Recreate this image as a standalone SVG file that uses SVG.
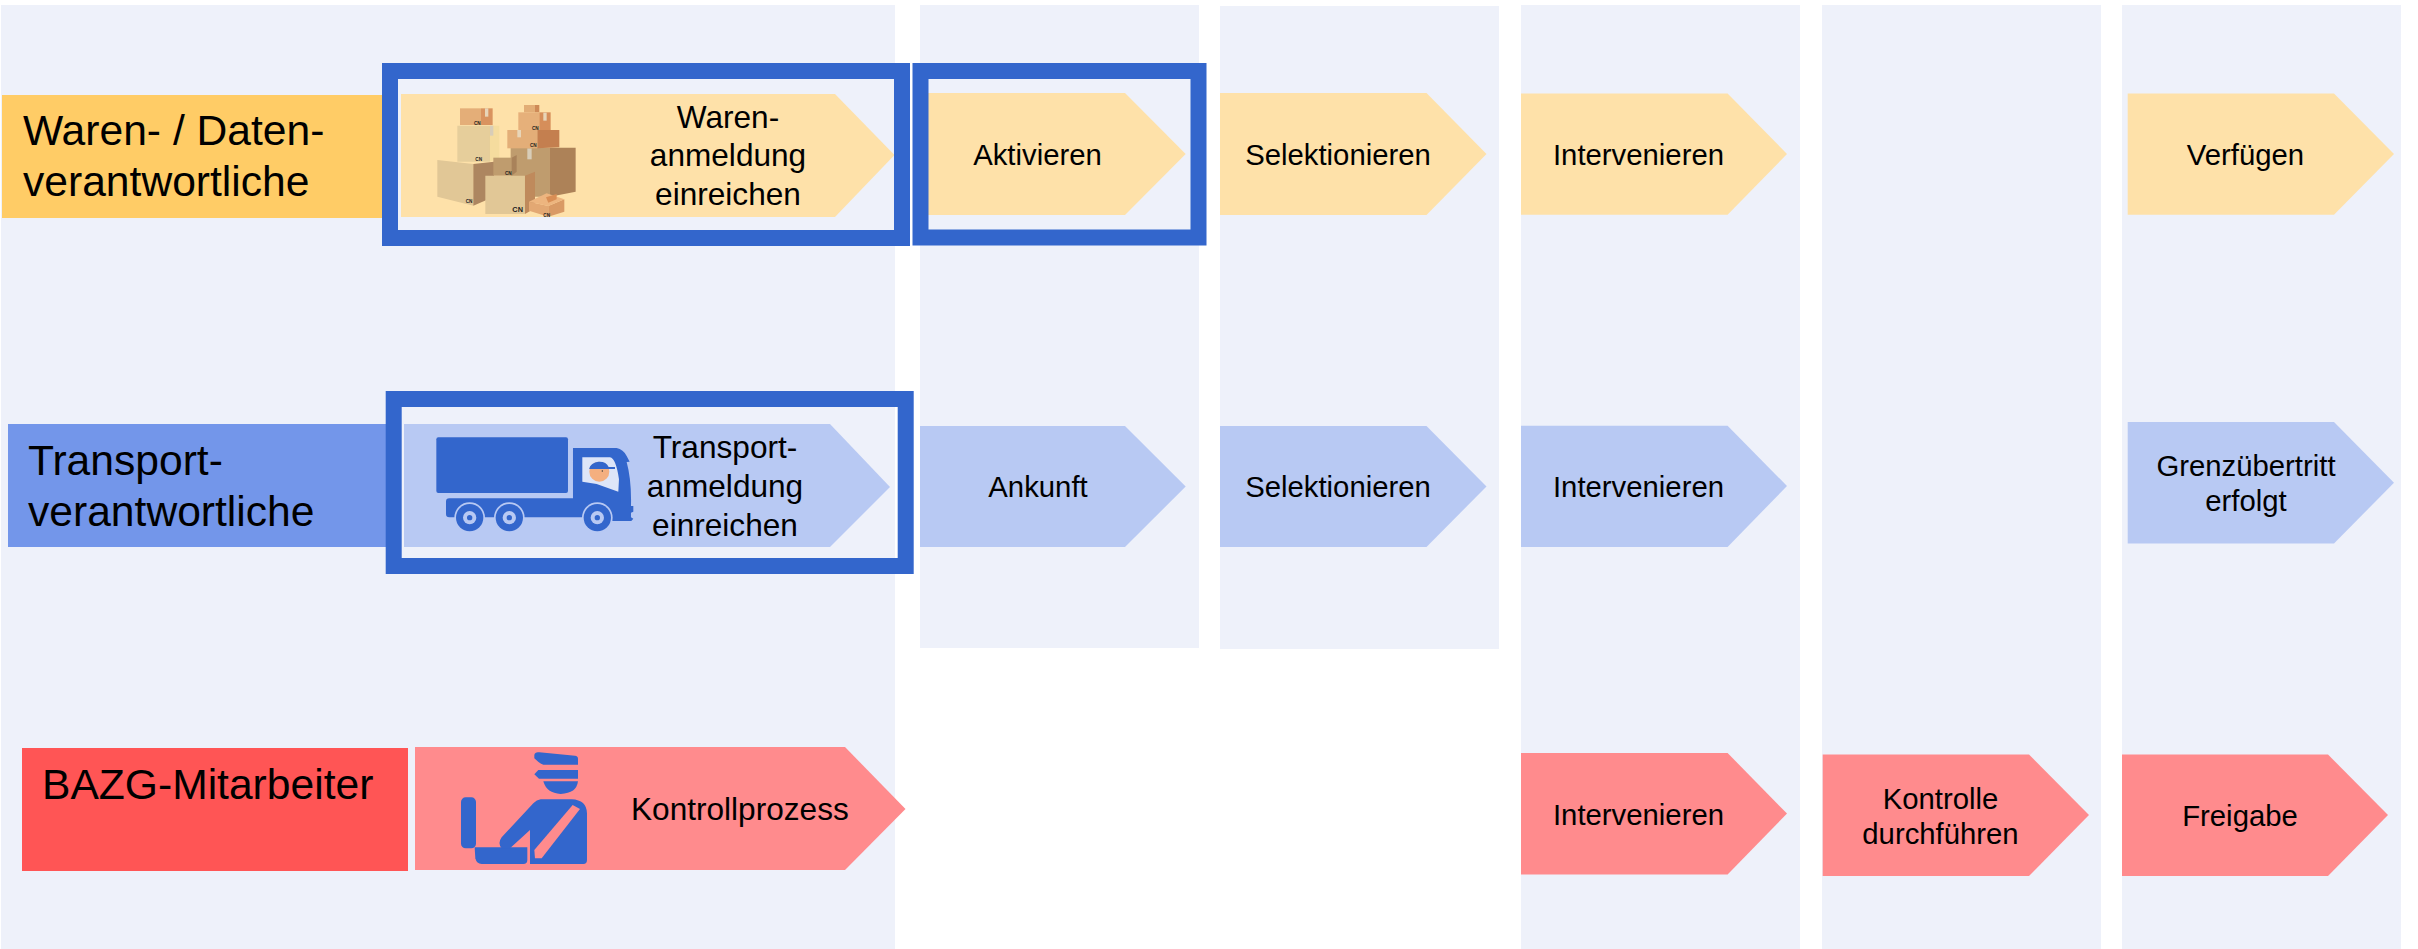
<svg xmlns="http://www.w3.org/2000/svg" width="2418" height="949" viewBox="0 0 2418 949">
<style>
text{font-family:"Liberation Sans",Arial,sans-serif;fill:#000}
.t{font-size:29.3px;text-anchor:middle}
.m{font-size:31.6px;text-anchor:middle}
.l{font-size:42.6px}
.panel{fill:#EEF1FA}
.y{fill:#FEE1A9}
.b{fill:#B8C9F3}
.r{fill:#FF8B8D}
.frame{fill:none;stroke:#3366CC;stroke-width:16}
.ic{fill:#3366CC}
.cn{font-weight:700;font-size:14px;text-anchor:middle;fill:#222}
</style>
<rect width="2418" height="949" fill="#fff"/>
<g id="panels">
<rect class="panel" x="1" y="5" width="894" height="944"/>
<rect class="panel" x="920" y="5" width="279" height="643"/>
<rect class="panel" x="1220" y="6" width="279" height="643"/>
<rect class="panel" x="1521" y="5" width="279" height="944"/>
<rect class="panel" x="1822" y="5" width="279" height="944"/>
<rect class="panel" x="2122" y="5" width="279" height="944"/>
</g>
<g id="role-waren">
<rect x="2" y="95" width="382" height="123" fill="#FFCC66"/>
<text class="l" x="23" y="145">Waren- / Daten-</text>
<text class="l" x="23" y="196">verantwortliche</text>
</g>
<g id="role-transport">
<rect x="8" y="424" width="380" height="123" fill="#7396EA"/>
<text class="l" x="28" y="475">Transport-</text>
<text class="l" x="28" y="526">verantwortliche</text>
</g>
<g id="role-bazg">
<rect x="22" y="748" width="386" height="123" fill="#FF5555"/>
<text class="l" x="42" y="799">BAZG-Mitarbeiter</text>
</g>
<g id="step-waren-anmeldung">
<polygon class="y" points="401,94 835,94 894.5,155 835,217 401,217"/>
<g transform="translate(420,90) scale(.3333)">
<polygon points="120,55 183,55 183,105 120,105" fill="#E4AE78"/><polygon points="183,55 218,55 218,105 183,105" fill="#D9935F"/><rect x="195" y="55" width="10" height="25" fill="#E8D5B8"/>
<polygon points="112,107 210,107 210,215 112,215" fill="#E6CE9B"/><polygon points="210,107 238,107 238,205 210,215" fill="#F5DC9E"/><rect x="210" y="107" width="10" height="30" fill="#D8CDB8"/>
<polygon points="312,45 345,45 345,67 312,67" fill="#E2AD76"/><polygon points="345,45 358,45 358,67 345,67" fill="#CE8A57"/>
<polygon points="295,67 358,67 358,120 295,120" fill="#E6B07A"/><polygon points="358,67 392,67 392,120 358,120" fill="#D68E5A"/><rect x="370" y="68" width="10" height="24" fill="#E8D5B8"/>
<polygon points="272,173 390,173 390,320 272,320" fill="#BF9C6E"/><polygon points="390,173 467,173 467,305 390,320" fill="#AD8258"/><rect x="322" y="175" width="13" height="33" fill="#D8CDB8"/>
<polygon points="262,120 352,120 352,175 262,175" fill="#E3AE78"/><polygon points="352,120 418,120 418,172 352,175" fill="#C47F4F"/><rect x="292" y="120" width="11" height="22" fill="#E8D5B8"/>
<polygon points="52,210 160,222 160,347 52,320" fill="#E1C796"/><polygon points="160,222 222,215 222,320 160,347" fill="#AD8660"/>
<polygon points="196,257 315,257 315,372 196,372" fill="#E1C796"/><polygon points="315,257 345,245 345,355 315,372" fill="#BF8A5C"/>
<polygon points="220,203 275,203 275,257 220,257" fill="#BF9C6E"/><polygon points="275,203 290,195 290,245 275,257" fill="#A9825A"/>
<polygon points="327,335 385,348 385,380 327,362" fill="#E3A873"/><polygon points="385,348 433,328 433,365 385,380" fill="#D99A65"/><polygon points="327,335 380,310 433,328 385,348" fill="#EDB57F"/><polygon points="378,322 410,312 410,328 385,338" fill="#D98E55"/>
<text class="cn" x="293" y="365" style="font-size:22px">CN</text>
<text class="cn" x="172" y="105">CN</text><text class="cn" x="346" y="119">CN</text><text class="cn" x="340" y="172">CN</text><text class="cn" x="176" y="214">CN</text><text class="cn" x="265" y="254">CN</text><text class="cn" x="147" y="340">CN</text><text class="cn" x="380" y="380">CN</text>
</g>
<text class="m" x="728" y="128">Waren-</text>
<text class="m" x="728" y="166">anmeldung</text>
<text class="m" x="728" y="205">einreichen</text>
</g>
<g id="step-aktivieren">
<polygon class="y" points="920,93 1125,93 1185.7,154 1125,215 920,215"/>
<text class="t" x="1037.5" y="165">Aktivieren</text>
</g>
<g id="step-selektionieren-1">
<polygon class="y" points="1220,93 1426.5,93 1486.5,154 1426.5,215 1220,215"/>
<text class="t" x="1338" y="165">Selektionieren</text>
</g>
<g id="step-intervenieren-1">
<polygon class="y" points="1521,93.5 1727.6,93.5 1787,154 1727.6,214.7 1521,214.7"/>
<text class="t" x="1638.5" y="165">Intervenieren</text>
</g>
<g id="step-verfuegen">
<polygon class="y" points="2127.7,93.5 2334,93.5 2394,154 2334,214.7 2127.7,214.7"/>
<text class="t" x="2245.5" y="165">Verfügen</text>
</g>
<g id="step-transport-anmeldung">
<polygon class="b" points="404,424 830,424 890,487 830,547 404,547"/>
<g transform="translate(420,420) scale(.3333)">
<rect class="ic" x="49" y="52" width="395" height="167" rx="6"/>
<path class="ic" d="M88 235H459V84H590Q610 88 620 108L629 125L620 126Q635 180 633 258H640V275L633 278V292L640 296L634 303H560V292H88Q78 292 78 282V245Q78 235 88 235Z"/>
<g fill="#B8C9F3"><circle cx="149" cy="293" r="46"/><circle cx="268" cy="293" r="46"/><circle cx="532" cy="293" r="46"/></g>
<g class="ic"><circle cx="149" cy="293" r="41"/><circle cx="268" cy="293" r="41"/><circle cx="532" cy="293" r="41"/></g>
<g fill="#B8C9F3"><circle cx="149" cy="293" r="20"/><circle cx="268" cy="293" r="20"/><circle cx="532" cy="293" r="20"/></g>
<g class="ic"><circle cx="149" cy="293" r="8"/><circle cx="268" cy="293" r="8"/><circle cx="532" cy="293" r="8"/></g>
<path d="M487 112H570Q588 115 597 178L595 215L530 192L487 185Z" fill="#DDE5F8"/>
<circle cx="538" cy="155" r="30" fill="#F4AF7F"/>
<path class="ic" d="M508 145A30 23 0 0 1 566 141H585V147H508Z"/>
<circle cx="547" cy="153" r="2" fill="#333"/>
</g>
<text class="m" x="725" y="458">Transport-</text>
<text class="m" x="725" y="497">anmeldung</text>
<text class="m" x="725" y="536">einreichen</text>
</g>
<g id="step-ankunft">
<polygon class="b" points="920,426 1125,426 1185.7,486.5 1125,547 920,547"/>
<text class="t" x="1038" y="497">Ankunft</text>
</g>
<g id="step-selektionieren-2">
<polygon class="b" points="1220,426 1426.5,426 1486.5,486.5 1426.5,547 1220,547"/>
<text class="t" x="1338" y="497">Selektionieren</text>
</g>
<g id="step-intervenieren-2">
<polygon class="b" points="1521,425.7 1727.6,425.7 1787,486 1727.6,547 1521,547"/>
<text class="t" x="1638.5" y="497">Intervenieren</text>
</g>
<g id="step-grenzuebertritt">
<polygon class="b" points="2127.7,422 2334,422 2394,482.7 2334,543.6 2127.7,543.6"/>
<text class="t" x="2246" y="476">Grenzübertritt</text>
<text class="t" x="2246" y="510.6">erfolgt</text>
</g>
<g id="step-kontrollprozess">
<polygon class="r" points="415,747 845,747 905.5,809 845,870 415,870"/>
<g transform="translate(440,740) scale(.3333)">
<path class="ic" d="M283 45Q285 35 298 37L405 47Q414 48 414 56V74H310Q300 72 283 55Z"/>
<path class="ic" d="M283 103L295 90H414V116H297Z"/>
<path class="ic" d="M310 124H414Q410 160 362 162Q320 160 310 124Z"/>
<rect class="ic" x="63" y="172" width="45" height="153" rx="14"/>
<path class="ic" d="M104 322H262V360Q262 372 250 372H125Q110 372 106 355Z"/>
<path class="ic" d="M302 178H395Q440 180 441 220V360Q441 372 430 372H270V270L210 325H185Q172 310 185 292L280 190Q290 180 302 178Z"/>
<polygon class="r" points="398,195 420,207 305,355 285,355 283,330"/>
</g>
<text class="m" x="631" y="820" style="text-anchor:start">Kontrollprozess</text>
</g>
<g id="step-intervenieren-3">
<polygon class="r" points="1521,753 1727.6,753 1787,813.6 1727.6,874.6 1521,874.6"/>
<text class="t" x="1638.5" y="825">Intervenieren</text>
</g>
<g id="step-kontrolle">
<polygon class="r" points="1822.7,754.5 2029,754.5 2089,815 2029,876 1822.7,876"/>
<text class="t" x="1940.5" y="809">Kontrolle</text>
<text class="t" x="1940.5" y="843.7">durchführen</text>
</g>
<g id="step-freigabe">
<polygon class="r" points="2122,754.5 2328,754.5 2388,815 2328,876 2122,876"/>
<text class="t" x="2240" y="825.6">Freigabe</text>
</g>
<g id="highlight-frames">
<rect class="frame" x="390" y="71" width="512" height="167"/>
<rect class="frame" x="920.5" y="71" width="278" height="166.5"/>
<rect class="frame" x="393.7" y="399" width="512" height="167"/>
</g>
<g id="connectors"/>
</svg>
